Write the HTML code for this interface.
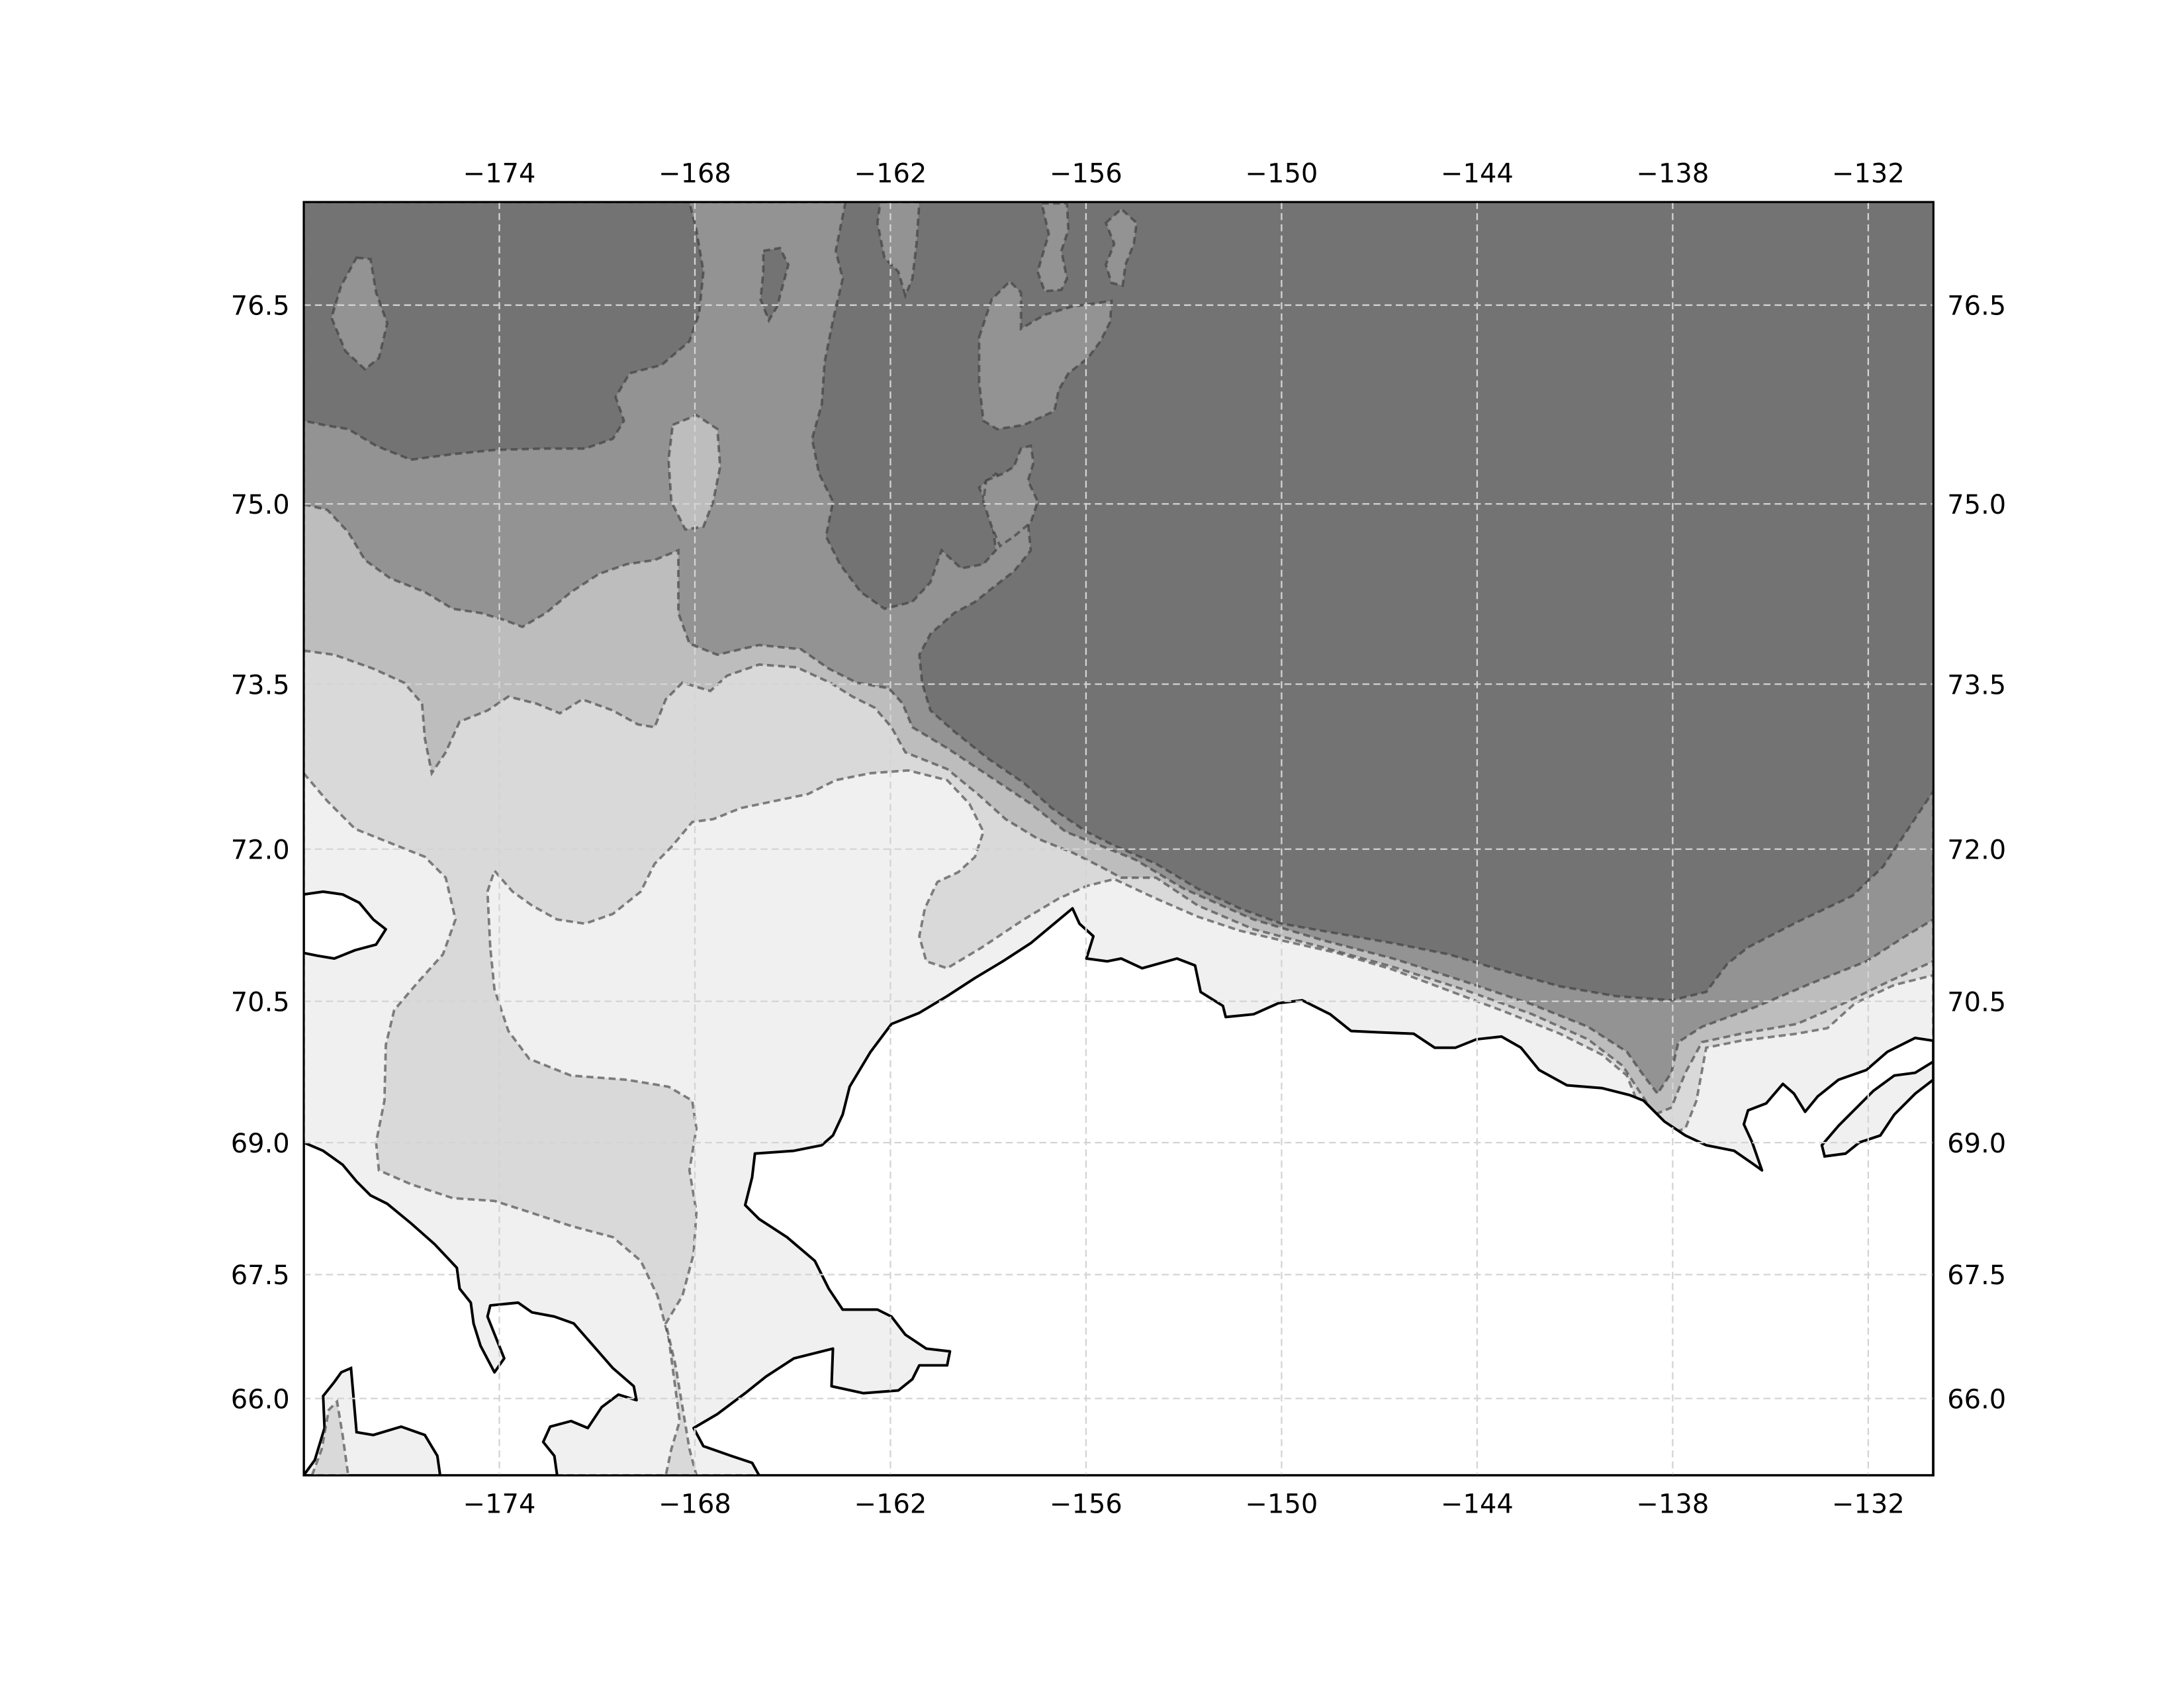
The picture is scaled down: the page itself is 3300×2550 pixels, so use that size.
<!DOCTYPE html>
<html><head><meta charset="utf-8">
<style>
html,body{margin:0;padding:0;background:#fff;}
svg{display:block;}
text{font-family:"DejaVu Sans","Liberation Sans",sans-serif;font-size:19px;fill:#000;}
.ct{stroke:rgba(55,55,55,0.6);stroke-width:1.8;stroke-dasharray:5 3;}
.coast{fill:#fff;stroke:#000;stroke-width:1.9;stroke-linejoin:round;}
</style></head>
<body>
<svg id="map" width="3300" height="2550" viewBox="0 0 1568 1211.6" preserveAspectRatio="none" xmlns="http://www.w3.org/2000/svg">
<defs><clipPath id="clip"><rect x="218.1" y="145" width="1170" height="914"/></clipPath></defs>
<g clip-path="url(#clip)">
<rect x="218.1" y="145" width="1170" height="914" fill="#737373"/>
<path class="ct" fill="#939393" d="M495,145 L607,145 L600,180 L605,200 L598,230 L592,260 L590,290 L583,315 L588,340 L598,360 L593,385 L603,405 L618,425 L635,437 L655,432 L668,418 L676,395 L690,408 L706,405 L715,395 L712,370 L703,350 L715,340 L728,350 L738,375 L740,395 L728,410 L715,420 L700,432 L685,440 L668,455 L660,470 L662,490 L668,510 L685,525 L710,545 L735,562 L755,580 L780,597 L800,607 L830,620 L860,638 L890,652 L920,663 L960,670 L1000,677 L1040,685 L1080,697 L1120,708 L1160,715 L1200,718 L1225,712 L1240,692 L1255,680 L1290,662 L1330,643 L1352,622 L1368,598 L1388,568 L1388,1059 L218,1059 L218,145 Z"/>
<path class="ct" fill="#939393" d="M632,145 L660,145 L658,175 L655,200 L650,212 L645,195 L635,185 L630,160 Z"/>
<path class="ct" fill="#939393" d="M703,242 L712,215 L725,202 L733,210 L733,236 L750,226 L770,220 L785,218 L798,216 L797,231 L790,245 L781,257 L767,268 L760,280 L757,295 L735,305 L716,308 L706,302 L703,274 Z"/>
<path class="ct" fill="#939393" d="M748,146 L766,146 L767,165 L762,180 L766,200 L762,208 L750,209 L745,195 L750,178 L753,168 Z"/>
<path class="ct" fill="#939393" d="M794,160 L805,150 L816,160 L814,175 L808,190 L806,205 L798,203 L794,190 L800,175 Z"/>
<path class="ct" fill="#939393" d="M708,345 L720,340 L728,335 L733,322 L740,320 L742,332 L738,345 L745,360 L740,375 L728,385 L718,392 L712,378 L706,360 Z"/>
<path class="ct" fill="#737373" d="M218,145 L495,145 L500,165 L505,195 L502,225 L495,245 L475,262 L452,268 L442,285 L448,302 L440,315 L420,322 L390,322 L355,323 L325,326 L295,330 L270,320 L250,308 L232,305 L218,302 Z"/>
<path class="ct" fill="#939393" d="M256,185 L266,186 L270,210 L278,232 L272,257 L262,265 L248,252 L238,228 L245,205 Z"/>
<path class="ct" fill="#737373" d="M548,180 L560,178 L566,190 L562,205 L558,220 L552,230 L546,215 L548,195 Z"/>
<path class="ct" fill="#bdbdbd" d="M218,362 L235,366 L250,382 L262,402 L280,415 L305,425 L325,437 L345,440 L362,445 L375,450 L392,440 L410,425 L430,412 L450,405 L470,402 L487,395 L487,440 L495,462 L515,470 L545,463 L575,466 L595,480 L615,490 L638,494 L648,505 L655,522 L680,537 L710,557 L740,577 L765,597 L790,607 L815,617 L850,638 L900,660 L950,675 L1000,688 L1050,704 L1100,721 L1140,737 L1168,755 L1180,772 L1190,785 L1200,770 L1205,748 L1222,737 L1260,723 L1300,706 L1340,690 L1368,672 L1388,660 L1388,1059 L218,1059 Z"/>
<path class="ct" fill="#bdbdbd" d="M483,305 L500,298 L515,308 L517,335 L512,360 L505,378 L492,380 L482,360 L480,330 Z"/>
<path class="ct" fill="#d9d9d9" d="M218,467 L240,470 L268,480 L290,490 L303,505 L305,530 L310,555 L320,540 L330,518 L350,510 L365,500 L385,505 L402,512 L418,502 L440,510 L458,520 L470,522 L478,502 L490,490 L510,496 L522,485 L545,477 L572,479 L596,490 L612,500 L628,508 L640,522 L650,540 L680,552 L702,570 L722,588 L745,602 L770,612 L790,622 L805,630 L830,630 L860,650 L900,667 L950,680 L1000,694 L1050,710 L1100,728 L1140,746 L1165,765 L1178,785 L1188,800 L1200,795 L1210,770 L1222,748 L1250,742 L1290,735 L1320,722 L1355,705 L1388,690 L1388,1059 L218,1059 Z"/>
<path class="ct" fill="#f0f0f0" d="M218,555 L235,575 L255,595 L280,605 L305,615 L320,630 L327,660 L318,685 L300,705 L283,725 L277,750 L276,790 L270,820 L272,840 L295,850 L325,860 L355,862 L380,870 L410,880 L440,888 L460,905 L472,930 L480,960 L484,990 L488,1020 L482,1040 L478,1059 L218,1059 Z"/>
<path class="ct" fill="#f0f0f0" d="M352,680 L350,640 L355,625 L368,640 L382,650 L400,660 L420,663 L440,656 L460,640 L470,620 L482,608 L497,590 L512,588 L532,580 L556,575 L580,570 L600,560 L625,555 L652,553 L680,560 L696,577 L706,597 L700,615 L688,626 L673,633 L664,652 L660,672 L665,690 L680,695 L705,680 L735,660 L760,645 L780,636 L800,631 L830,645 L860,658 L890,668 L920,675 L960,684 L1000,696 L1040,711 L1080,726 L1120,742 L1150,757 L1168,772 L1176,792 L1185,806 L1195,815 L1210,810 L1218,790 L1225,752 L1250,747 L1290,742 L1312,738 L1332,720 L1360,707 L1388,700 L1388,1059 L500,1059 L495,1040 L490,1010 L485,980 L478,950 L490,930 L498,900 L500,870 L495,840 L500,810 L497,790 L480,780 L450,775 L410,772 L380,760 L365,740 L355,710 Z"/>
<path class="coast" d="M218,820 L232,826 L246,836 L256,848 L266,858 L278,864 L295,878 L312,893 L328,910 L330,925 L338,935 L340,950 L345,966 L355,985 L362,975 L356,960 L350,945 L352,937 L372,935 L382,942 L398,945 L412,950 L426,966 L440,982 L455,995 L457,1005 L444,1001 L432,1010 L422,1025 L410,1020 L395,1024 L390,1035 L398,1045 L400,1059 L218,1059 Z"/>
<path fill="#f0f0f0" stroke="#000" stroke-width="1.9" d="M218,1059 L226,1048 L233,1025 L232,1002 L240,992 L245,985 L252,982 L254,1005 L256,1028 L268,1030 L288,1024 L305,1030 L314,1045 L316,1059 Z"/>
<path class="ct" fill="#d9d9d9" d="M224,1059 L231,1040 L236,1012 L242,1006 L246,1030 L250,1059 Z"/>
<path class="coast" d="M218,642 L232,640 L246,642 L258,648 L268,660 L277,667 L270,678 L255,682 L240,688 L228,686 L218,684 Z"/>
<path class="coast" d="M598,815 L605,800 L610,780 L625,755 L640,735 L660,727 L680,715 L700,702 L720,690 L740,677 L758,662 L770,652 L775,663 L785,672 L780,688 L795,690 L805,688 L820,695 L845,688 L858,693 L862,712 L878,722 L880,730 L900,728 L918,720 L935,718 L955,728 L970,740 L990,741 L1015,742 L1030,752 L1045,752 L1060,746 L1078,744 L1092,752 L1105,768 L1125,779 L1150,781 L1170,786 L1180,790 L1195,805 L1210,815 L1225,822 L1245,826 L1258,835 L1265,840 L1258,820 L1252,807 L1255,797 L1268,792 L1280,778 L1288,785 L1296,798 L1305,787 L1320,775 L1340,768 L1355,755 L1375,745 L1388,747 L1388,1059 L545,1059 L540,1050 L525,1045 L505,1038 L498,1025 L515,1015 L535,1000 L550,988 L570,975 L598,968 L597,995 L620,1000 L645,998 L655,990 L660,980 L680,980 L682,970 L665,968 L650,958 L640,945 L630,940 L605,940 L595,925 L585,905 L565,888 L545,875 L535,865 L540,845 L542,828 L570,826 L590,822 Z"/>
<path fill="#f0f0f0" stroke="#000" stroke-width="1.9" d="M1310,830 L1308,822 L1320,808 L1330,798 L1345,783 L1360,772 L1375,770 L1388,762 L1388,775 L1375,785 L1360,800 L1350,815 L1335,820 L1325,828 Z"/>
<g id="grid"></g>
</g>
<rect x="218.1" y="145" width="1170" height="914" fill="none" stroke="#000" stroke-width="1.5"/>
<g id="labels"></g>
</svg>
<script>
const lonTicks = [-174, -168, -162, -156, -150, -144, -138, -132];
const lonLabels = ["\u2212174", "\u2212168", "\u2212162", "\u2212156", "\u2212150", "\u2212144", "\u2212138", "\u2212132"];
const latTicks = [76.5, 75.0, 73.5, 72.0, 70.5, 69.0, 67.5, 66.0];
const latLabels = ["76.5", "75.0", "73.5", "72.0", "70.5", "69.0", "67.5", "66.0"];

const NS = "http://www.w3.org/2000/svg";
const X0 = 218.1, X1 = 1388.1, Y0 = 145, Y1 = 1059;
function merc(lat){ const r = lat*Math.PI/180; return Math.log(Math.tan(Math.PI/4 + r/2)); }
function xLon(lon){ return X0 + (lon + 180) * 23.4; }
function yLat(lat){ return 219 + (merc(76.5) - merc(lat)) * 1340.4; }

const grid = document.getElementById('grid');
const labels = document.getElementById('labels');
function line(x1,y1,x2,y2){
  const l = document.createElementNS(NS,'line');
  l.setAttribute('x1',x1); l.setAttribute('y1',y1); l.setAttribute('x2',x2); l.setAttribute('y2',y2);
  l.setAttribute('stroke','#d4d4d4'); l.setAttribute('stroke-width','1.1'); l.setAttribute('stroke-dasharray','5 3');
  return l;
}
function txt(x,y,s,anchor){
  const t = document.createElementNS(NS,'text');
  t.setAttribute('x',x); t.setAttribute('y',y); t.setAttribute('text-anchor',anchor);
  t.textContent = s;
  return t;
}
lonTicks.forEach((lon,i)=>{
  const x = xLon(lon);
  const g = line(x,Y0,x,Y1);
  
  
  grid.appendChild(g);
  const t1 = txt(x,131,lonLabels[i],'middle');
  
  
  labels.appendChild(t1);
  const t2 = txt(x,1086,lonLabels[i],'middle');
  
  
  labels.appendChild(t2);
});
latTicks.forEach((lat,i)=>{
  const y = yLat(lat);
  const g = line(X0,y,X1,y);
  
  
  grid.appendChild(g);
  const t1 = txt(208,y+7,latLabels[i],'end');
  
  
  labels.appendChild(t1);
  const t2 = txt(1398,y+7,latLabels[i],'start');
  
  
  labels.appendChild(t2);
});
</script>
</body></html>
